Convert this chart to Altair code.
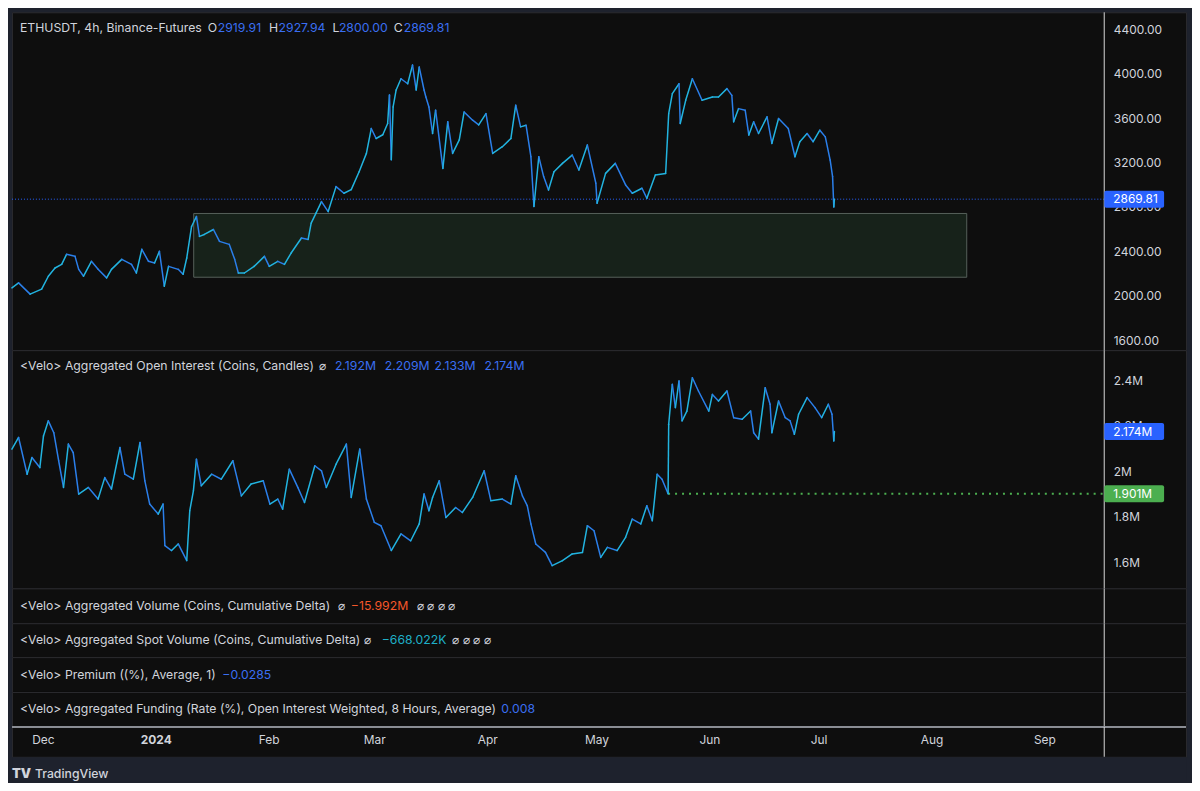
import altair as alt
import pandas as pd
import numpy as np

# ---------------- data ----------------
price_time = [
    "2023-11-22T12:00", "2023-11-24T08:00", "2023-11-27T12:00", "2023-11-30T16:00",
    "2023-12-02T12:00", "2023-12-04T08:00", "2023-12-06T04:00", "2023-12-07T12:00",
    "2023-12-09T20:00", "2023-12-10T20:00", "2023-12-12T04:00", "2023-12-14T08:00",
    "2023-12-16T04:00", "2023-12-18T12:00", "2023-12-19T20:00", "2023-12-22T16:00",
    "2023-12-25T08:00", "2023-12-26T16:00", "2023-12-28T04:00", "2023-12-30T00:00",
    "2023-12-31T16:00", "2024-01-02T00:00", "2024-01-03T08:00", "2024-01-04T12:00",
    "2024-01-07T04:00", "2024-01-08T12:00", "2024-01-09T12:00", "2024-01-10T20:00",
    "2024-01-12T04:00", "2024-01-13T00:00", "2024-01-14T08:00", "2024-01-16T20:00",
    "2024-01-18T12:00", "2024-01-21T04:00", "2024-01-22T16:00", "2024-01-23T16:00",
    "2024-01-25T08:00", "2024-01-28T00:00", "2024-01-30T20:00", "2024-02-01T04:00",
    "2024-02-03T12:00", "2024-02-05T08:00", "2024-02-07T04:00", "2024-02-10T00:00",
    "2024-02-11T20:00", "2024-02-12T16:00", "2024-02-14T00:00", "2024-02-15T12:00",
    "2024-02-17T08:00", "2024-02-19T12:00", "2024-02-21T16:00", "2024-02-23T16:00",
    "2024-02-25T20:00", "2024-02-27T20:00", "2024-02-29T04:00", "2024-03-01T12:00",
    "2024-03-03T08:00", "2024-03-04T16:00", "2024-03-05T04:00", "2024-03-05T16:00",
    "2024-03-06T04:00", "2024-03-07T00:00", "2024-03-08T08:00", "2024-03-10T04:00",
    "2024-03-11T12:00", "2024-03-12T12:00", "2024-03-13T08:00", "2024-03-14T16:00",
    "2024-03-15T04:00", "2024-03-16T00:00", "2024-03-17T00:00", "2024-03-17T20:00",
    "2024-03-19T20:00", "2024-03-21T04:00", "2024-03-22T12:00", "2024-03-24T08:00",
    "2024-03-25T16:00", "2024-03-28T00:00", "2024-03-29T16:00", "2024-03-31T16:00",
    "2024-04-02T12:00", "2024-04-05T04:00", "2024-04-07T12:00", "2024-04-08T20:00",
    "2024-04-10T04:00", "2024-04-11T16:00", "2024-04-13T00:00", "2024-04-13T20:00",
    "2024-04-15T04:00", "2024-04-16T12:00", "2024-04-17T20:00", "2024-04-19T08:00",
    "2024-04-21T16:00", "2024-04-24T08:00", "2024-04-26T04:00", "2024-04-28T12:00",
    "2024-04-30T20:00", "2024-05-01T04:00", "2024-05-03T12:00", "2024-05-06T04:00",
    "2024-05-09T00:00", "2024-05-10T20:00", "2024-05-13T12:00", "2024-05-14T20:00",
    "2024-05-17T04:00", "2024-05-20T00:00", "2024-05-20T20:00", "2024-05-21T20:00",
    "2024-05-23T16:00", "2024-05-24T00:00", "2024-05-25T12:00", "2024-05-27T08:00",
    "2024-05-30T00:00", "2024-06-01T20:00", "2024-06-03T12:00", "2024-06-05T20:00",
    "2024-06-07T04:00", "2024-06-07T16:00", "2024-06-09T00:00", "2024-06-10T20:00",
    "2024-06-11T20:00", "2024-06-13T04:00", "2024-06-14T12:00", "2024-06-16T20:00",
    "2024-06-18T04:00", "2024-06-20T00:00", "2024-06-22T16:00", "2024-06-24T12:00",
    "2024-06-25T20:00", "2024-06-27T20:00", "2024-06-29T12:00", "2024-07-01T08:00",
    "2024-07-02T20:00", "2024-07-04T04:00", "2024-07-04T20:00", "2024-07-05T04:00",
    "2024-07-05T08:00",
]
price_value = [
    2071, 2116, 2015, 2060,
    2176, 2250, 2283, 2373,
    2355, 2238, 2176, 2310,
    2238, 2161, 2238, 2328,
    2283, 2205, 2418, 2310,
    2295, 2400, 2086, 2265,
    2238, 2194, 2340, 2624,
    2714, 2535, 2552, 2597,
    2490, 2463, 2328, 2205,
    2205, 2265, 2355, 2265,
    2310, 2283, 2385, 2520,
    2507, 2654, 2744, 2848,
    2758, 2983, 2923, 2956,
    3117, 3282, 3506, 3416,
    3450, 3551, 3808, 3225,
    3700, 3853, 3954, 3909,
    4077, 3853, 4059, 3853,
    3790, 3700, 3461, 3671,
    3147, 3566, 3282, 3404,
    3655, 3581, 3539, 3640,
    3282, 3342, 3416, 3716,
    3521, 3536, 3252, 2804,
    3252, 3073, 2953, 3117,
    3192, 3267, 3133, 3357,
    3013, 2833, 3102, 3192,
    2998, 2923, 2968, 2878,
    3087, 3102, 3640, 3820,
    3909, 3551, 3760, 3954,
    3760, 3790, 3790, 3865,
    3805, 3566, 3685, 3671,
    3447, 3566, 3461, 3611,
    3372, 3596, 3506, 3252,
    3387, 3461, 3387, 3491,
    3431, 3222, 3073, 2800,
    2869.81,
]

oi_time = [
    "2023-11-22T12:00", "2023-11-24T08:00", "2023-11-26T16:00", "2023-11-28T00:00", "2023-11-30T04:00", "2023-12-01T04:00",
    "2023-12-02T12:00", "2023-12-04T00:00", "2023-12-05T08:00", "2023-12-06T16:00", "2023-12-08T00:00", "2023-12-09T08:00",
    "2023-12-10T20:00", "2023-12-13T12:00", "2023-12-16T04:00", "2023-12-18T00:00", "2023-12-19T20:00", "2023-12-22T04:00",
    "2023-12-23T12:00", "2023-12-25T20:00", "2023-12-27T16:00", "2023-12-29T00:00", "2023-12-30T08:00", "2024-01-01T16:00",
    "2024-01-03T00:00", "2024-01-03T12:00", "2024-01-05T08:00", "2024-01-07T04:00", "2024-01-09T12:00", "2024-01-10T08:00",
    "2024-01-11T08:00", "2024-01-12T04:00", "2024-01-13T12:00", "2024-01-16T08:00", "2024-01-19T00:00", "2024-01-22T04:00",
    "2024-01-24T12:00", "2024-01-27T04:00", "2024-01-30T12:00", "2024-02-01T08:00", "2024-02-03T12:00", "2024-02-04T20:00",
    "2024-02-06T16:00", "2024-02-09T00:00", "2024-02-10T20:00", "2024-02-13T16:00", "2024-02-15T12:00", "2024-02-16T20:00",
    "2024-02-19T12:00", "2024-02-22T08:00", "2024-02-23T16:00", "2024-02-26T00:00", "2024-02-27T20:00", "2024-03-01T00:00",
    "2024-03-02T20:00", "2024-03-05T16:00", "2024-03-08T08:00", "2024-03-11T00:00", "2024-03-13T08:00", "2024-03-14T16:00",
    "2024-03-16T00:00", "2024-03-17T00:00", "2024-03-18T20:00", "2024-03-20T16:00", "2024-03-23T08:00", "2024-03-25T04:00",
    "2024-03-28T00:00", "2024-03-31T04:00", "2024-04-02T00:00", "2024-04-05T04:00", "2024-04-07T12:00", "2024-04-08T20:00",
    "2024-04-10T16:00", "2024-04-12T00:00", "2024-04-13T00:00", "2024-04-14T08:00", "2024-04-17T00:00", "2024-04-18T20:00",
    "2024-04-21T16:00", "2024-04-24T08:00", "2024-04-27T04:00", "2024-04-28T12:00", "2024-04-30T08:00", "2024-05-02T04:00",
    "2024-05-04T00:00", "2024-05-06T16:00", "2024-05-09T00:00", "2024-05-10T20:00", "2024-05-13T04:00", "2024-05-14T20:00",
    "2024-05-16T08:00", "2024-05-17T16:00", "2024-05-19T00:00", "2024-05-20T16:00", "2024-05-20T20:00", "2024-05-21T20:00",
    "2024-05-22T16:00", "2024-05-23T16:00", "2024-05-24T12:00", "2024-05-25T20:00", "2024-05-27T08:00", "2024-05-29T00:00",
    "2024-05-31T20:00", "2024-06-01T20:00", "2024-06-03T12:00", "2024-06-05T20:00", "2024-06-07T16:00", "2024-06-10T00:00",
    "2024-06-12T08:00", "2024-06-13T04:00", "2024-06-14T12:00", "2024-06-16T08:00", "2024-06-17T16:00", "2024-06-18T04:00",
    "2024-06-20T00:00", "2024-06-21T20:00", "2024-06-23T04:00", "2024-06-24T08:00", "2024-06-25T12:00", "2024-06-27T20:00",
    "2024-06-30T00:00", "2024-07-01T20:00", "2024-07-03T16:00", "2024-07-04T16:00", "2024-07-05T04:00", "2024-07-05T08:00",
]
oi_value = [  # millions of coins
    2.097, 2.148, 1.987, 2.060, 2.016, 2.155,
    2.221, 2.169, 2.046, 1.929, 2.119, 2.082,
    1.900, 1.929, 1.878, 1.972, 1.922, 2.104,
    1.987, 1.965, 2.126, 1.958, 1.856, 1.812,
    1.856, 1.674, 1.652, 1.681, 1.608, 1.827,
    1.914, 2.053, 1.936, 1.987, 1.965, 2.046,
    1.892, 1.944, 1.958, 1.856, 1.878, 1.834,
    2.009, 1.929, 1.863, 2.024, 2.002, 1.929,
    2.031, 2.119, 1.885, 2.097, 1.878, 1.776,
    1.761, 1.652, 1.725, 1.695, 1.769, 1.900,
    1.827, 1.885, 1.958, 1.797, 1.841, 1.819,
    1.885, 2.002, 1.871, 1.878, 1.856, 1.980,
    1.892, 1.849, 1.769, 1.681, 1.644, 1.586,
    1.608, 1.637, 1.644, 1.761, 1.739, 1.622,
    1.666, 1.652, 1.710, 1.790, 1.769, 1.849,
    1.783, 1.987, 1.965, 1.901, 2.206, 2.381,
    2.279, 2.396, 2.221, 2.264, 2.410, 2.352,
    2.264, 2.337, 2.308, 2.352, 2.235, 2.228,
    2.264, 2.169, 2.141, 2.366, 2.294, 2.169,
    2.308, 2.235, 2.221, 2.162, 2.250, 2.323,
    2.279, 2.235, 2.294, 2.250, 2.133, 2.174,
]

zone_time = ["2024-01-11T10:00", "2024-08-10T16:00"]
zone_price = [2741, 2167]
last_price = [2869.81]
oi_last = [2.174]
oi_level = [1.901]
oi_level_start = ["2024-05-20T16:00"]

price_ticks = [1600, 2000, 2400, 2800, 3200, 3600, 4000, 4400]
oi_ticks = [1.6, 1.8, 2.0, 2.2, 2.4]
month_ticks = ["2023-12-01", "2024-01-01", "2024-02-01", "2024-03-01", "2024-04-01",
               "2024-05-01", "2024-06-01", "2024-07-01", "2024-08-01", "2024-09-01"]

price_title = ["ETHUSDT, 4h, Binance-Futures"]
ohlc_letters = ["O", "H", "L", "C"]
ohlc_values = ["2919.91", "2927.94", "2800.00", "2869.81"]
oi_title = ["<Velo> Aggregated Open Interest (Coins, Candles)"]
oi_values = ["2.192M", "2.209M", "2.133M", "2.174M"]
vol_title = ["<Velo> Aggregated Volume (Coins, Cumulative Delta)"]
vol_value = ["\u221215.992M"]
spot_title = ["<Velo> Aggregated Spot Volume (Coins, Cumulative Delta)"]
spot_value = ["\u2212668.022K"]
prem_title = ["<Velo> Premium ((%), Average, 1)"]
prem_value = ["\u22120.0285"]
fund_title = ["<Velo> Aggregated Funding (Rate (%), Open Interest Weighted, 8 Hours, Average)"]
fund_value = ["0.008"]
na_mark = ["\u2300"]
na_marks = ["\u2300   \u2300   \u2300   \u2300"]
footer_logo = ["TV"]
footer_name = ["TradingView"]

# ---------------- styling / layout ----------------
FONT = "Inter"
FS = 12.3
TEXT = "#d1d4dc"
NAVY = "#1e222d"
PANE = "#0e0e0e"
SEP = "#2a2a2e"
UP = "#22b4e0"
DOWN = "#2b7fea"
VAL_BLUE = "#3a6ef2"
BADGE_BLUE = "#2962ff"
GREEN = "#4caf50"
ORANGE = "#f4572a"
TEAL = "#1fb0c8"
DIVIDER = "#d8d8d8"
W = 1178
AXIS_X = 1096           # view x of the price-scale divider
X_LEFT = "2023-11-22T12:30"
X_RIGHT = "2024-10-09T21:00"
PLOT_END = "2024-09-17T10:00"


def dt(s):
    d, _, t = s.partition("T")
    y, m, dd = [int(p) for p in d.split("-")]
    hh, mm = (int(p) for p in (t.split(":") if t else ["0", "0"]))
    return alt.DateTime(year=y, month=m, date=dd, hours=hh, minutes=mm)


xscale = alt.Scale(domain=[dt(X_LEFT), dt(X_RIGHT)], nice=False)
pscale = alt.Scale(domain=[1510.3, 4552.6], nice=False, zero=False)
oscale = alt.Scale(domain=[1.4863, 2.5311], nice=False, zero=False)

price_axis = alt.Axis(orient="right", offset=AXIS_X - W, values=price_ticks, format=".2f",
                      labelColor=TEXT, labelFont=FONT, labelFontSize=12, labelPadding=9,
                      ticks=False, domain=False, grid=False, title=None,
                      labelAlign="left", labelBaseline="middle")
oi_axis = alt.Axis(orient="right", offset=AXIS_X - W, values=oi_ticks,
                   labelExpr="datum.value + 'M'",
                   labelColor=TEXT, labelFont=FONT, labelFontSize=12, labelPadding=9,
                   ticks=False, domain=False, grid=False, title=None,
                   labelAlign="left", labelBaseline="middle")


def X(field="t"):
    return alt.X(f"{field}:T", scale=xscale, axis=None)


def segments(times, values):
    df = pd.DataFrame({"t": times, "v": values})
    df["t2"] = df["t"].shift(-1)
    df["v2"] = df["v"].shift(-1)
    df = df.iloc[:-1].copy()
    df["dir"] = np.where(df["v2"] >= df["v"], "up", "down")
    return df


def seg_layer(df, yscale, axis):
    return alt.Chart(df).mark_rule(strokeWidth=1.5, strokeCap="round").encode(
        x=X(), x2="t2:T",
        y=alt.Y("v:Q", scale=yscale, axis=axis), y2="v2:Q",
        color=alt.Color("dir:N", scale=alt.Scale(domain=["up", "down"], range=[UP, DOWN]), legend=None),
    )


def text(s, x, y, color=TEXT, size=FS, weight="normal"):
    return alt.Chart(pd.DataFrame({"s": s})).mark_text(
        align="left", baseline="middle", font=FONT, fontSize=size, color=color, fontWeight=weight
    ).encode(text="s:N", x=alt.value(x), y=alt.value(y))


def divider():
    return alt.Chart(pd.DataFrame({"t": [PLOT_END]})).mark_rule(color=DIVIDER, strokeWidth=1).encode(x=X())


def badge(values, labels, yscale, axis, color):
    df = pd.DataFrame({"v": values, "s": labels})
    rect = alt.Chart(df).mark_rect(color=color, cornerRadius=2, yOffset=-8.5, y2Offset=8.5).encode(
        x=alt.value(AXIS_X), x2=alt.value(AXIS_X + 60),
        y=alt.Y("v:Q", scale=yscale, axis=axis), y2="v:Q")
    lab = alt.Chart(df).mark_text(align="left", baseline="middle", font=FONT, fontSize=12, color="white").encode(
        x=alt.value(AXIS_X + 9), y=alt.Y("v:Q", scale=yscale, axis=axis), text="s:N")
    return [rect, lab]


# ---------------- price pane ----------------
zone_df = pd.DataFrame({"t": [zone_time[0]], "t2": [zone_time[1]], "v": [zone_price[0]], "v2": [zone_price[1]]})
zone = alt.Chart(zone_df).mark_rect(fill="#17221a", stroke="#56605a", strokeWidth=1).encode(
    x=X(), x2="t2:T", y=alt.Y("v:Q", scale=pscale, axis=price_axis), y2="v2:Q")
pline_df = pd.DataFrame({"t": [X_LEFT], "t2": [PLOT_END], "v": last_price})
pline = alt.Chart(pline_df).mark_rule(color=BADGE_BLUE, strokeDash=[1, 2], strokeWidth=1).encode(
    x=X(), x2="t2:T", y=alt.Y("v:Q", scale=pscale, axis=price_axis))

price_layers = [zone, pline, seg_layer(segments(price_time, price_value), pscale, price_axis), divider()]
price_layers += badge(last_price, [f"{v:.2f}" for v in last_price], pscale, price_axis, BADGE_BLUE)
price_layers.append(text(price_title, 8, 16))
for lx, vx, letter, val in zip([196.5, 258, 321.5, 383], [206.5, 267.5, 328, 393], ohlc_letters, ohlc_values):
    price_layers.append(text([letter], lx, 16))
    price_layers.append(text([val], vx, 16, color=VAL_BLUE))
price_pane = alt.layer(*price_layers).properties(width=W, height=339)

# ---------------- open interest pane ----------------
oline_df = pd.DataFrame({"t": oi_level_start, "t2": [PLOT_END], "v": oi_level})
oline = alt.Chart(oline_df).mark_rule(color=GREEN, strokeDash=[2, 5], strokeWidth=2).encode(
    x=X(), x2="t2:T", y=alt.Y("v:Q", scale=oscale, axis=oi_axis))
oi_layers = [oline, seg_layer(segments(oi_time, oi_value), oscale, oi_axis), divider()]
oi_layers += badge(oi_level, [f"{v:.3f}M" for v in oi_level], oscale, oi_axis, GREEN)
oi_layers += badge(oi_last, [f"{v:.3f}M" for v in oi_last], oscale, oi_axis, BADGE_BLUE)
oi_layers.append(text(oi_title, 8, 16))
oi_layers.append(text(na_mark, 308, 16))
for vx, val in zip([324, 374, 424, 474], oi_values):
    oi_layers.append(text([val], vx, 16, color=VAL_BLUE))
oi_pane = alt.layer(*oi_layers).properties(width=W, height=239)

# ---------------- legend-only panes ----------------
vol_pane = alt.layer(divider(), text(vol_title, 8, 18), text(na_mark, 327, 18),
                     text(vol_value, 340, 18, color=ORANGE), text(na_marks, 406, 18)).properties(width=W, height=35)
spot_pane = alt.layer(divider(), text(spot_title, 8, 17), text(na_mark, 353, 17),
                      text(spot_value, 371, 17, color=TEAL), text(na_marks, 442, 17)).properties(width=W, height=34)
prem_pane = alt.layer(divider(), text(prem_title, 8, 18),
                      text(prem_value, 211, 18, color=VAL_BLUE)).properties(width=W, height=35)
fund_pane = alt.layer(divider(), text(fund_title, 8, 17),
                      text(fund_value, 491, 17, color=VAL_BLUE)).properties(width=W, height=35)

# ---------------- time axis pane ----------------
time_axis = alt.Axis(orient="bottom", offset=-30, values=[dt(m) for m in month_ticks],
                     labelExpr="month(datum.value) == 0 ? timeFormat(datum.value, '%Y') : timeFormat(datum.value, '%b')",
                     labelFontWeight={"condition": {"test": "month(datum.value) == 0", "value": "bold"}, "value": "normal"},
                     labelColor=TEXT, labelFont=FONT, labelFontSize=12, labelPadding=8,
                     ticks=False, domain=False, grid=False, title=None, labelFlush=False, labelOverlap=False)
time_div = alt.Chart(pd.DataFrame({"t": [PLOT_END]})).mark_rule(color=DIVIDER, strokeWidth=1).encode(
    x=alt.X("t:T", scale=xscale, axis=time_axis))
time_top = alt.Chart(pd.DataFrame({"k": [0]})).mark_rule(color="#8a8d94", strokeWidth=2).encode(y=alt.value(0))
time_pane = alt.layer(time_top, time_div).properties(width=W, height=30)

# ---------------- footer ----------------
footer = alt.layer(text(footer_logo, 0, 17, size=13, weight=900),
                   text(footer_name, 23, 17, size=FS, weight=500)).properties(
    width=W, height=24, view=alt.ViewBackground(fill=NAVY, stroke="transparent"))

chart = alt.vconcat(price_pane, oi_pane, vol_pane, spot_pane, prem_pane, fund_pane, time_pane, footer,
                    spacing=0, bounds="flush").resolve_scale(
    x="independent", y="independent", color="independent").configure(
    background=NAVY, padding={"left": 2, "top": 2, "right": 4, "bottom": 0}
).configure_view(fill=PANE, stroke=SEP)

chart.save("out.html", embed_options={"renderer": "svg", "actions": False})
